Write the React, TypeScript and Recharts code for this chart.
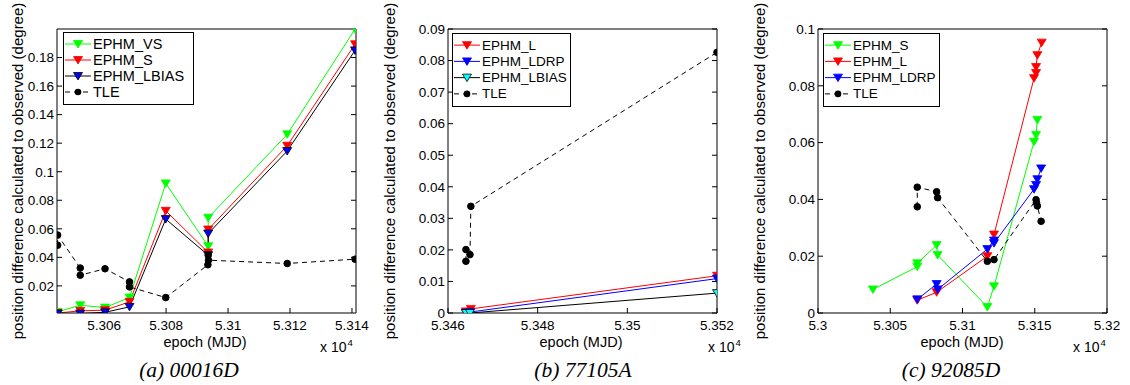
import React from "react";
import { LineChart, Line, XAxis, YAxis, Legend } from "recharts";

const SANS = '"Liberation Sans", Arial, Helvetica, sans-serif';
const SERIF = '"Liberation Serif", "Times New Roman", serif';

// ---- (a) 00016D ----
const A_EPOCH = [5.3045, 5.30523, 5.30603, 5.30682, 5.30799, 5.30936, 5.30936, 5.31191, 5.3141];
const A_VS = [0.0018, 0.0064, 0.0048, 0.0118, 0.0918, 0.0478, 0.0677, 0.1262, 0.1999];
const A_S = [0.001, 0.0025, 0.003, 0.0088, 0.0726, 0.0434, 0.0595, 0.1182, 0.1893];
const A_LBIAS = [0.0006, 0.0006, 0.0015, 0.0053, 0.0668, 0.0415, 0.0567, 0.1145, 0.185];
const A_TLE_EPOCH = [5.3045, 5.3045, 5.30523, 5.30523, 5.30603, 5.30682, 5.30682, 5.30799, 5.30935, 5.30936, 5.30937, 5.31191, 5.3141];
const A_TLE = [0.0485, 0.0556, 0.0325, 0.0275, 0.032, 0.0228, 0.0193, 0.0118, 0.0348, 0.0415, 0.038, 0.0357, 0.0387];
const A_XTICKS = [5.306, 5.308, 5.31, 5.312, 5.314];
const A_YTICKS = [0.02, 0.04, 0.06, 0.08, 0.1, 0.12, 0.14, 0.16, 0.18];

// ---- (b) 77105A ----
const B_EPOCH = [5.3464, 5.34649, 5.352];
const B_L_EPOCH = [5.3464, 5.34651, 5.352];
const B_L = [0.0005, 0.0013, 0.0118];
const B_LDRP = [0.0, 0.0003, 0.0109];
const B_LBIAS = [0.0, 0.0, 0.0063];
const B_TLE_EPOCH = [5.3464, 5.3464, 5.34649, 5.34651, 5.352];
const B_TLE = [0.0164, 0.0201, 0.0185, 0.0338, 0.0826];
const B_XTICKS = [5.346, 5.348, 5.35, 5.352];
const B_YTICKS = [0, 0.01, 0.02, 0.03, 0.04, 0.05, 0.06, 0.07, 0.08, 0.09];

// ---- (c) 92085D ----
const C_S_EPOCH = [5.3038, 5.30687, 5.30687, 5.30821, 5.30828, 5.31172, 5.31218, 5.31495, 5.31509, 5.31518];
const C_S = [0.0083, 0.0163, 0.0175, 0.0239, 0.0204, 0.0021, 0.0094, 0.0603, 0.0627, 0.068];
const C_L_EPOCH = [5.30687, 5.30821, 5.31172, 5.31218, 5.31495, 5.31509, 5.31509, 5.31518, 5.31548];
const C_L = [0.0045, 0.0073, 0.02, 0.0276, 0.0827, 0.0845, 0.0866, 0.0908, 0.0952];
const C_LDRP_EPOCH = [5.30687, 5.30821, 5.30828, 5.31172, 5.31218, 5.31218, 5.31495, 5.31509, 5.31518, 5.31544];
const C_LDRP = [0.0048, 0.0102, 0.0083, 0.0225, 0.0255, 0.0246, 0.0436, 0.0451, 0.0471, 0.0509];
const C_TLE_EPOCH = [5.30687, 5.30687, 5.30821, 5.30828, 5.31172, 5.31218, 5.31509, 5.31512, 5.31518, 5.31544];
const C_TLE = [0.0374, 0.0443, 0.0427, 0.0406, 0.0182, 0.0188, 0.0399, 0.0388, 0.0377, 0.0323];
const C_XTICKS = [5.3, 5.305, 5.31, 5.315, 5.32];
const C_YTICKS = [0, 0.02, 0.04, 0.06, 0.08, 0.1];

const pts = (xs: number[], ys: number[]) => xs.map((x, i) => ({ x, y: ys[i] }));
const fmt = (v: number) => String(parseFloat(v.toFixed(4)));

type Series = {
  name: string;
  data: { x: number; y: number }[];
  stroke: string;
  fill: string;
  marker: "tri" | "dot";
  dash?: boolean;
};

const tri = (cx: number, cy: number) =>
  `M${cx - 4.5},${cy - 3.5}L${cx + 4.5},${cy - 3.5}L${cx},${cy + 4}Z`;

const markerFn = (s: Series) => (p: any) => {
  if (p.cx == null || p.cy == null) return <g key={p.index} />;
  if (s.marker === "dot")
    return <circle key={p.index} cx={p.cx} cy={p.cy} r={3.3} fill={s.fill} stroke={s.stroke} />;
  return <path key={p.index} d={tri(p.cx, p.cy)} fill={s.fill} stroke={s.stroke} strokeWidth={0.8} />;
};

function LegendBox({ items, w, h, fontSize }: { items: Series[]; w: number; h: number; fontSize: number }) {
  const rowH = (h - 8) / items.length;
  return (
    <svg width={w + 1} height={h + 1} style={{ display: "block" }}>
      <rect x={0.5} y={0.5} width={w} height={h} fill="#fff" stroke="#000" />
      {items.map((s, i) => {
        const y = 4 + rowH * (i + 0.5);
        return (
          <g key={s.name}>
            <line x1={2} x2={28} y1={y} y2={y} stroke={s.stroke} strokeDasharray={s.dash ? "5 4" : undefined} />
            {s.marker === "dot" ? (
              <circle cx={15} cy={y} r={3.3} fill={s.fill} />
            ) : (
              <path d={tri(15, y)} fill={s.fill} stroke={s.stroke} strokeWidth={0.8} />
            )}
            <text x={30} y={y} dominantBaseline="central" fontSize={fontSize} fontFamily={SANS} fill="#000">
              {s.name}
            </text>
          </g>
        );
      })}
    </svg>
  );
}

const Blank = () => <g />;

type Panel = {
  left: number;
  width: number;
  plot: { top: number; right: number; bottom: number; left: number };
  xDomain: [number, number];
  yDomain: [number, number];
  xTicks: number[];
  yTicks: number[];
  series: Series[];
  legend: { x: number; y: number; w: number; h: number; fontSize: number };
  yLabelX: number;
  xLabelX: number;
  expX: number;
  captionX: number;
  caption: string;
};

function PanelChart({ p }: { p: Panel }) {
  const axisText = { fontSize: 13.5, fill: "#000", fontFamily: SANS };
  const H = 385;
  const midY = p.plot.top + (H - p.plot.top - p.plot.bottom) / 2;
  // axes take 1px each, so the margins are one less than the plot insets
  const margin = { top: p.plot.top - 1, right: p.plot.right - 1, bottom: p.plot.bottom - 1, left: p.plot.left - 1 };
  return (
    <div style={{ position: "absolute", left: p.left, top: 0 }}>
      <LineChart width={p.width} height={H} margin={margin}>
        <XAxis
          type="number"
          dataKey="x"
          domain={p.xDomain}
          ticks={p.xTicks}
          interval={0}
          allowDataOverflow
          height={1}
          tickSize={-5}
          tickMargin={12.5}
          tickFormatter={fmt}
          tick={axisText}
          axisLine={{ stroke: "#000" }}
          tickLine={{ stroke: "#000" }}
          label={{
            content: () => (
              <g fontFamily={SANS} fill="#000">
                <text x={p.xLabelX} y={347} textAnchor="middle" fontSize={14.5}>epoch (MJD)</text>
                <text x={p.expX} y={352} fontSize={14}>x 10</text>
                <text x={p.expX + 27.5} y={346} fontSize={9.5}>4</text>
                <text x={p.captionX} y={377} textAnchor="middle" fontSize={21.5} fontStyle="italic" fontFamily={SERIF}>
                  {p.caption}
                </text>
              </g>
            ),
          }}
        />
        <XAxis
          xAxisId="top"
          orientation="top"
          type="number"
          domain={p.xDomain}
          ticks={p.xTicks}
          interval={0}
          allowDataOverflow
          height={1}
          tickSize={-5}
          tick={Blank}
          axisLine={{ stroke: "#000" }}
          tickLine={{ stroke: "#000" }}
        />
        <YAxis
          type="number"
          domain={p.yDomain}
          ticks={p.yTicks}
          interval={0}
          allowDataOverflow
          width={1}
          tickSize={-5}
          tickMargin={8}
          tickFormatter={fmt}
          tick={axisText}
          axisLine={{ stroke: "#000" }}
          tickLine={{ stroke: "#000" }}
          label={{
            content: () => (
              <text
                x={p.yLabelX}
                y={midY}
                transform={`rotate(-90, ${p.yLabelX}, ${midY})`}
                textAnchor="middle"
                dominantBaseline="central"
                fontSize={15}
                fontFamily={SANS}
                fill="#000"
              >
                position difference calculated to observed (degree)
              </text>
            ),
          }}
        />
        <YAxis
          yAxisId="right"
          orientation="right"
          type="number"
          domain={p.yDomain}
          ticks={p.yTicks}
          interval={0}
          allowDataOverflow
          width={1}
          tickSize={-5}
          tick={Blank}
          axisLine={{ stroke: "#000" }}
          tickLine={{ stroke: "#000" }}
        />
        {p.series.map((s) => (
          <Line
            key={s.name}
            data={s.data}
            dataKey="y"
            name={s.name}
            type="linear"
            stroke={s.stroke}
            strokeWidth={1}
            strokeDasharray={s.dash ? "5 4" : undefined}
            dot={markerFn(s)}
            activeDot={false}
            isAnimationActive={false}
          />
        ))}
        <Legend
          layout="vertical"
          align="center"
          verticalAlign="middle"
          wrapperStyle={{ position: "absolute", left: p.legend.x, top: p.legend.y, width: "auto", height: "auto" }}
          content={() => <LegendBox items={p.series} w={p.legend.w} h={p.legend.h} fontSize={p.legend.fontSize} />}
        />
      </LineChart>
    </div>
  );
}

const PANELS: Panel[] = [
  {
    left: 0,
    width: 375,
    plot: { top: 29, right: 19, bottom: 72, left: 57 },
    xDomain: [5.30448, 5.31413],
    yDomain: [0.001, 0.2],
    xTicks: A_XTICKS,
    yTicks: A_YTICKS,
    series: [
      { name: "EPHM_VS", data: pts(A_EPOCH, A_VS), stroke: "#00ff00", fill: "#00ff00", marker: "tri" },
      { name: "EPHM_S", data: pts(A_EPOCH, A_S), stroke: "#ff0000", fill: "#ff0000", marker: "tri" },
      { name: "EPHM_LBIAS", data: pts(A_EPOCH, A_LBIAS), stroke: "#000000", fill: "#0000ff", marker: "tri" },
      { name: "TLE", data: pts(A_TLE_EPOCH, A_TLE), stroke: "#000000", fill: "#000000", marker: "dot", dash: true },
    ],
    legend: { x: 63, y: 32, w: 130, h: 72, fontSize: 14.5 },
    yLabelX: 17,
    xLabelX: 205,
    expX: 320,
    captionX: 189,
    caption: "(a) 00016D",
  },
  {
    left: 375,
    width: 370,
    plot: { top: 29, right: 28, bottom: 72, left: 73 },
    xDomain: [5.346, 5.352],
    yDomain: [0, 0.09],
    xTicks: B_XTICKS,
    yTicks: B_YTICKS,
    series: [
      { name: "EPHM_L", data: pts(B_L_EPOCH, B_L), stroke: "#ff0000", fill: "#ff0000", marker: "tri" },
      { name: "EPHM_LDRP", data: pts(B_EPOCH, B_LDRP), stroke: "#0000ff", fill: "#0000ff", marker: "tri" },
      { name: "EPHM_LBIAS", data: pts(B_EPOCH, B_LBIAS), stroke: "#000000", fill: "#00ffff", marker: "tri" },
      { name: "TLE", data: pts(B_TLE_EPOCH, B_TLE), stroke: "#000000", fill: "#000000", marker: "dot", dash: true },
    ],
    legend: { x: 77, y: 33, w: 118, h: 73, fontSize: 13.5 },
    yLabelX: 14,
    xLabelX: 206,
    expX: 333,
    captionX: 208,
    caption: "(b) 77105A",
  },
  {
    left: 745,
    width: 385,
    plot: { top: 29, right: 23, bottom: 72, left: 73 },
    xDomain: [5.3, 5.32],
    yDomain: [0, 0.1],
    xTicks: C_XTICKS,
    yTicks: C_YTICKS,
    series: [
      { name: "EPHM_S", data: pts(C_S_EPOCH, C_S), stroke: "#00ff00", fill: "#00ff00", marker: "tri" },
      { name: "EPHM_L", data: pts(C_L_EPOCH, C_L), stroke: "#ff0000", fill: "#ff0000", marker: "tri" },
      { name: "EPHM_LDRP", data: pts(C_LDRP_EPOCH, C_LDRP), stroke: "#0000ff", fill: "#0000ff", marker: "tri" },
      { name: "TLE", data: pts(C_TLE_EPOCH, C_TLE), stroke: "#000000", fill: "#000000", marker: "dot", dash: true },
    ],
    legend: { x: 78, y: 33, w: 116, h: 73, fontSize: 13.5 },
    yLabelX: 14,
    xLabelX: 217,
    expX: 328,
    captionX: 206,
    caption: "(c) 92085D",
  },
];

export default function App() {
  return (
    <div style={{ position: "absolute", left: 0, top: 0, width: 1130, height: 385, background: "#fff", overflow: "hidden" }}>
      {PANELS.map((p) => (
        <PanelChart key={p.caption} p={p} />
      ))}
    </div>
  );
}
